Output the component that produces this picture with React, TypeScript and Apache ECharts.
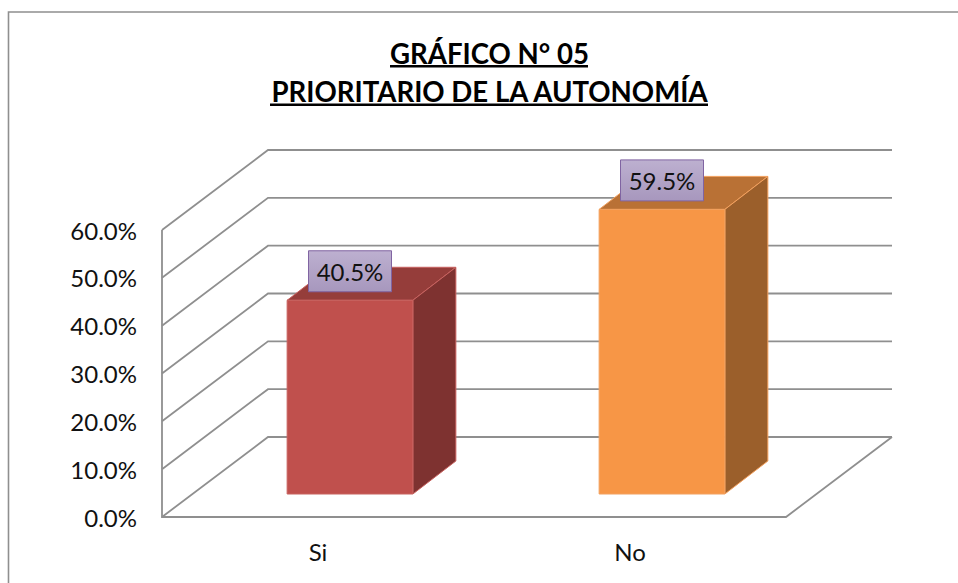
import React, { useEffect, useRef } from "react";
import * as echarts from "echarts";

const categories = ["Si", "No"];
const values = [0.405, 0.595];
const yTicks = [0, 0.1, 0.2, 0.3, 0.4, 0.5, 0.6];
const titleLines = ["GRÁFICO N° 05", "PRIORITARIO DE LA AUTONOMÍA"];

const frontColors = ["#C0504D", "#F79646"];
const topColors = ["#953D3A", "#B97135"];
const sideColors = ["#7E3230", "#9B5F2B"];
const edgeColors = ["#C8625F", "#F2A05E"];
const GRID = "#8F8F8F";
const FONT = "Lato, Carlito, sans-serif";
const DX = 106;
const DY = -80;
const BAR_DX = 43;
const BAR_DY = -33;

const wallItem = (params: any, api: any) => {
  const v = api.value(0);
  const cs = params.coordSys;
  const y = api.coord([0, v])[1];
  const left = cs.x;
  const right = cs.x + cs.width;
  const children: any[] = [
    {
      type: "polyline",
      shape: { points: [[left, y], [left + DX, y + DY], [right + DX, y + DY]] },
      style: { stroke: GRID, lineWidth: 1.8, fill: "none" },
    },
  ];
  if (v === 0) {
    children.push({
      type: "polyline",
      shape: {
        points: [[left, cs.y], [left, y], [right, y], [right + DX, y + DY]],
      },
      style: { stroke: GRID, lineWidth: 1.8, fill: "none" },
    });
  }
  return { type: "group", children };
};

const barItem = (_params: any, api: any) => {
  const i = api.value(0);
  const v = api.value(1);
  const base = api.coord([i, 0]);
  const tip = api.coord([i, v]);
  const w = api.size([1, 0])[0] * 0.403;
  const cx = base[0] + 32;
  const x0 = cx - w / 2;
  const x1 = cx + w / 2;
  const yb = base[1] - 23;
  const yt = tip[1] - 23;
  const edge = { stroke: edgeColors[i], lineWidth: 1 };
  const lw = 83;
  const lh = 41;
  const lx = cx - lw / 2;
  const ly = yt - 49.5;
  return {
    type: "group",
    children: [
      {
        type: "polygon",
        shape: { points: [[x0, yt], [x1, yt], [x1 + BAR_DX, yt + BAR_DY], [x0 + BAR_DX, yt + BAR_DY]] },
        style: { fill: topColors[i], ...edge },
      },
      {
        type: "polygon",
        shape: { points: [[x1, yt], [x1 + BAR_DX, yt + BAR_DY], [x1 + BAR_DX, yb + BAR_DY], [x1, yb]] },
        style: { fill: sideColors[i], ...edge },
      },
      {
        type: "rect",
        shape: { x: x0, y: yt, width: w, height: yb - yt },
        style: { fill: frontColors[i], ...edge },
      },
      {
        type: "rect",
        shape: { x: lx, y: ly, width: lw, height: lh },
        style: {
          fill: {
            type: "linear", x: 0, y: 0, x2: 0, y2: 1,
            colorStops: [
              { offset: 0, color: "#BDB0D0" },
              { offset: 1, color: "#A797BD" },
            ],
          },
          stroke: "#8064A2",
          lineWidth: 1,
        },
      },
      {
        type: "text",
        style: {
          x: lx + lw / 2,
          y: ly + lh / 2,
          text: (v * 100).toFixed(1) + "%",
          align: "center",
          verticalAlign: "middle",
          fill: "#111",
          font: `24px ${FONT}`,
        },
      },
    ],
  };
};

export default function App() {
  const ref = useRef<HTMLDivElement>(null);
  useEffect(() => {
    const chart = echarts.init(ref.current!, null, { renderer: "svg" });
    chart.setOption({
      animation: false,
      backgroundColor: "#fff",
      title: {
        text: titleLines.join("\n"),
        left: 484.5,
        top: 29,
        textAlign: "center",
        textStyle: {
          fontFamily: FONT,
          fontWeight: "bold",
          fontSize: 27.6,
          lineHeight: 38,
          color: "#000",
        },
      },
      graphic: [
        {
          type: "polyline",
          shape: { points: [[8.5, 583], [8.5, 12], [958, 12]] },
          style: { stroke: "#8F8F8F", lineWidth: 1.6, fill: "none" },
        },
        { type: "rect", shape: { x: 390, y: 65, width: 198, height: 2.5 }, style: { fill: "#000" } },
        { type: "rect", shape: { x: 270, y: 103.5, width: 438, height: 2.5 }, style: { fill: "#000" } },
      ],
      grid: { left: 162, top: 230, width: 624, height: 287 },
      xAxis: {
        type: "category",
        data: categories,
        axisLine: { show: false },
        axisTick: { show: false },
        axisLabel: { fontFamily: FONT, fontSize: 24, color: "#111", margin: 22 },
      },
      yAxis: {
        type: "value",
        min: 0,
        max: 0.6,
        interval: 0.1,
        axisLine: { show: false },
        axisTick: { show: false },
        splitLine: { show: false },
        axisLabel: {
          fontFamily: FONT,
          fontSize: 24,
          color: "#111",
          margin: 25,
          formatter: (v: number) => (v * 100).toFixed(1) + "%",
        },
      },
      series: [
        {
          type: "custom",
          coordinateSystem: "cartesian2d",
          encode: { y: 0 },
          data: yTicks.map((t) => [t]),
          renderItem: wallItem,
          z: 1,
          silent: true,
        },
        {
          type: "custom",
          coordinateSystem: "cartesian2d",
          encode: { x: 0, y: 1 },
          data: values.map((v, i) => [i, v]),
          renderItem: barItem,
          z: 2,
          silent: true,
        },
      ],
    });
    return () => chart.dispose();
  }, []);
  return (
    <div
      ref={ref}
      style={{ position: "fixed", left: 0, top: 0, width: 958, height: 583 }}
    />
  );
}
